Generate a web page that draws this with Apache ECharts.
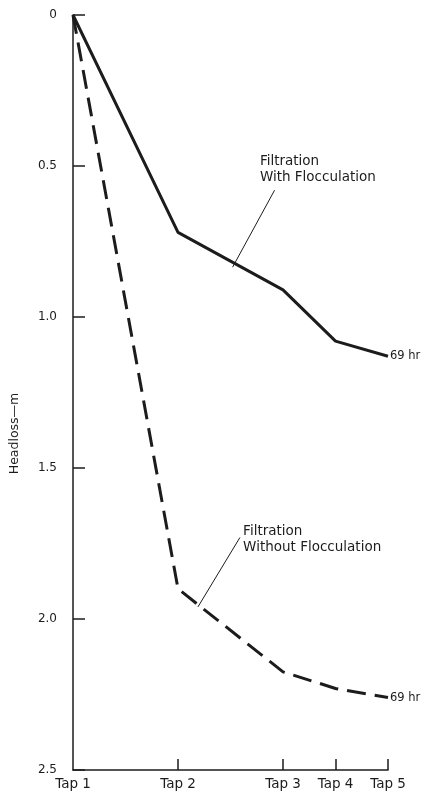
<!DOCTYPE html>
<html><head><meta charset="utf-8">
<script src="https://cdn.jsdelivr.net/npm/echarts@6/dist/echarts.min.js"></script>
<style>html,body{margin:0;padding:0;background:#fff}#c{width:424px;height:797px}</style>
</head><body><div id="c"></div>
<script>
const tapNames = ['Tap 1', 'Tap 2', 'Tap 3', 'Tap 4', 'Tap 5'];
const tapPositions = [0, 1, 2, 2.5, 3];
const withFlocculation = [0, 0.72, 0.91, 1.08, 1.13];
const withoutFlocculation = [0, 1.90, 2.175, 2.23, 2.26];
const yTicks = [0, 0.5, 1.0, 1.5, 2.0, 2.5];
const endLabel = '69 hr';

const ink = '#1c1c1c';
const font = 'DejaVu Sans';
const chart = echarts.init(document.getElementById('c'));
const pairs = arr => arr.map((v, i) => [tapPositions[i], v]);

chart.setOption({
  animation: false,
  grid: { left: 72, right: 36, top: 15, bottom: 27 },
  xAxis: {
    type: 'value', min: 0, max: 3, position: 'bottom',
    axisLine: { show: true, onZero: false, lineStyle: { color: ink, width: 1.5 } },
    axisTick: { show: true, inside: true, length: 11, customValues: tapPositions.slice(1), lineStyle: { color: ink, width: 1.5 } },
    axisLabel: { customValues: tapPositions, margin: 7, color: ink, fontFamily: font, fontSize: 13.5,
      formatter: v => tapNames[tapPositions.indexOf(v)] },
    splitLine: { show: false }
  },
  yAxis: {
    type: 'value', inverse: true, min: 0, max: 2.5, interval: 0.5,
    axisLine: { show: true, lineStyle: { color: ink, width: 1.5 } },
    axisTick: { show: true, inside: true, length: 12, lineStyle: { color: ink, width: 1.5 } },
    axisLabel: { margin: 16, color: ink, fontFamily: font, fontSize: 12,
      formatter: v => v === 0 ? '0' : v.toFixed(1) },
    splitLine: { show: false },
    name: 'Headloss—m', nameLocation: 'middle', nameGap: 52, nameRotate: 90,
    nameTextStyle: { color: ink, fontFamily: font, fontSize: 12.5, padding: [0, 82, 0, 0] }
  },
  series: [
    { type: 'line', data: pairs(withFlocculation), symbol: 'none',
      lineStyle: { color: ink, width: 3 },
      endLabel: { show: true, formatter: endLabel, color: ink, fontFamily: font, fontSize: 11.5, distance: 2 } },
    { type: 'line', data: pairs(withoutFlocculation), symbol: 'none',
      lineStyle: { color: ink, width: 3, type: [19, 9] },
      endLabel: { show: true, formatter: endLabel, color: ink, fontFamily: font, fontSize: 11.5, distance: 2 } }
  ]
});

// annotations anchored in data coordinates
const notes = [
  { text: 'Filtration\nWith Flocculation', at: [1.78, 0.46], from: [1.92, 0.58], to: [1.52, 0.835] },
  { text: 'Filtration\nWithout Flocculation', at: [1.62, 1.685], from: [1.59, 1.73], to: [1.19, 1.96] }
];
const g = [];
notes.forEach(n => {
  const p = chart.convertToPixel({ gridIndex: 0 }, n.at);
  const a = chart.convertToPixel({ gridIndex: 0 }, n.from);
  const b = chart.convertToPixel({ gridIndex: 0 }, n.to);
  g.push({ type: 'text', x: p[0], y: p[1], style: { text: n.text, fill: ink, font: '13.5px "DejaVu Sans"', lineHeight: 16 } });
  g.push({ type: 'line', shape: { x1: a[0], y1: a[1], x2: b[0], y2: b[1] }, style: { stroke: ink, lineWidth: 1 } });
});
chart.setOption({ graphic: g });
</script></body></html>
